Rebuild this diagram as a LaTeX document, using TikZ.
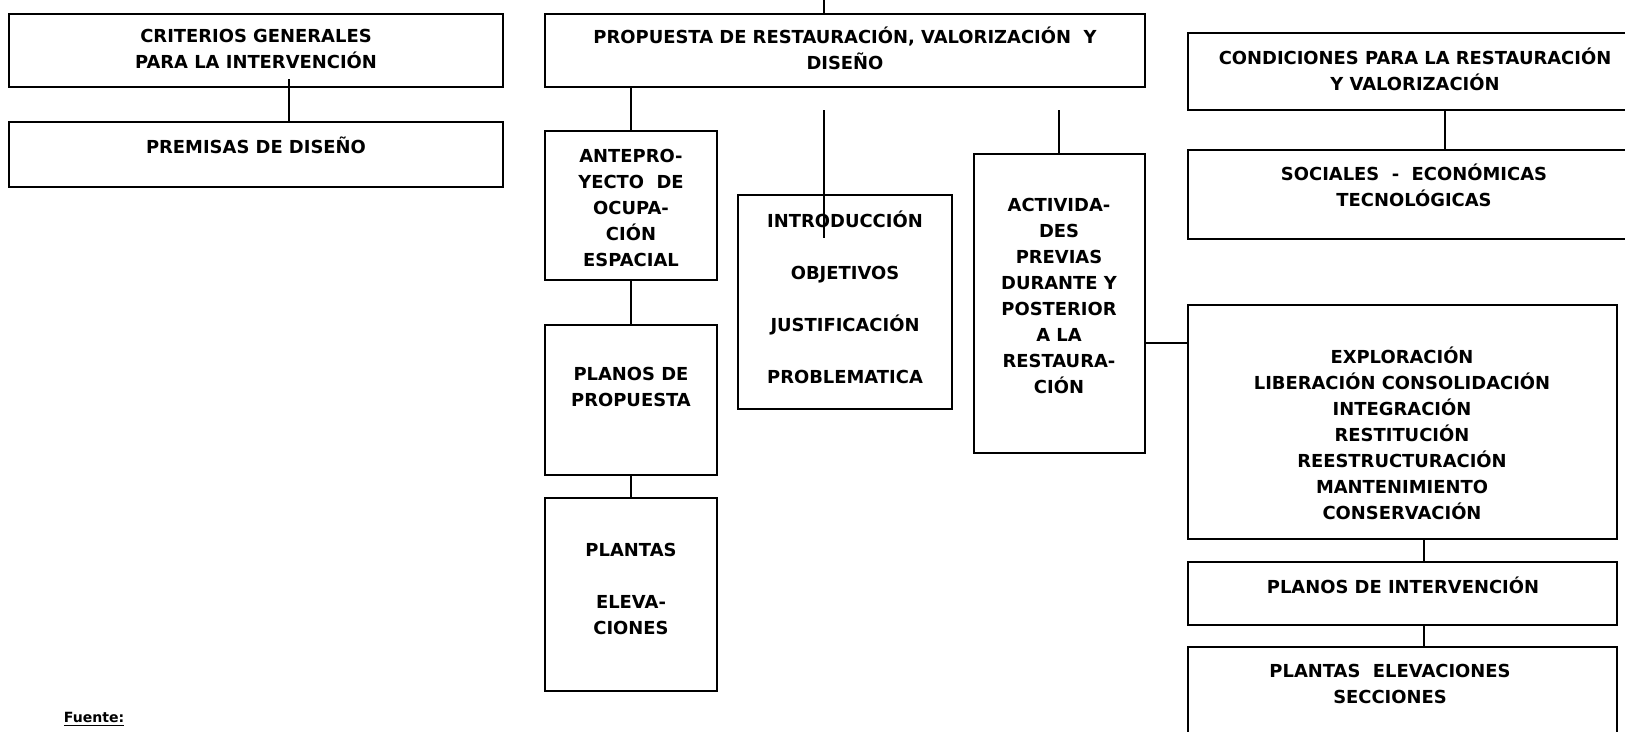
\documentclass[tikz,border=0pt]{standalone}
\usepackage{fontspec}
\setmainfont{DejaVu Sans}
\usepackage{tikz}
\usetikzlibrary{fit}

\begin{document}
\begin{tikzpicture}[x=0.02cm,y=-0.02cm,
  box/.style={draw,line width=1.1pt,inner sep=0pt},
  txt/.style={align=center,inner sep=0pt,font=\fontsize{10.2}{14.8}\selectfont\bfseries}]
\clip (0,0) rectangle (1625,731);
% Left column
\node[box,fit={(9,14) (503,87)}] (crit) {};
\node[txt] (critT) at (256,48.5) {CRITERIOS GENERALES\\PARA LA INTERVENCIÓN};
\node[box,fit={(9,122) (503,187)}] (prem) {};
\node[txt] (premT) at (256,145) {PREMISAS DE DISEÑO};
\coordinate (critstub) at (289,79);
\draw[line width=1pt] (critstub) -- (critstub |- prem.north);
% Main proposal
\node[box,fit={(545,14) (1145,87)}] (prop) {};
\node[txt] (propT) at (845,48.5) {PROPUESTA DE RESTAURACIÓN, VALORIZACIÓN~ Y\\DISEÑO};
\coordinate (topend) at (824,0);
\draw[line width=1pt] (topend) -- (topend |- prop.north);
% Proposal branches
\node[box,fit={(545,131) (717,280)}] (antep) {};
\node[txt] (antepT) at (631,207.5) {ANTEPRO-\\YECTO~ DE\\OCUPA-\\CIÓN\\ESPACIAL};
\node[box,fit={(545,325) (717,475)}] (planos) {};
\node[txt] (planosT) at (631,387) {PLANOS DE\\PROPUESTA};
\node[box,fit={(545,498) (717,691)}] (plantas) {};
\node[txt] (plantasT) at (631,589) {PLANTAS\\[14.8pt]ELEVA-\\CIONES};
\draw[line width=1pt] (antep.north |- prop.south) -- (antep.north);
\draw[line width=1pt] (antep.south) -- (planos.north);
\draw[line width=1pt] (planos.south) -- (plantas.north);
\node[box,fit={(738,195) (952,409)}] (intro) {};
\node[txt] (introT) at (845,297.5) {INTRODUCCIÓN\\[14.8pt]OBJETIVOS\\[14.8pt]JUSTIFICACIÓN\\[14.8pt]PROBLEMATICA};
\coordinate (introstub) at (824,110);
\coordinate (introhook) at (824,238);
\draw[line width=1pt] (introstub) -- (introhook);
\node[box,fit={(974,154) (1145,453)}] (activ) {};
\node[txt] (activT) at (1059,296) {ACTIVIDA-\\DES\\PREVIAS\\DURANTE Y\\POSTERIOR\\A LA\\RESTAURA-\\CIÓN};
\coordinate (activstub) at (1059,110);
\draw[line width=1pt] (activstub) -- (activstub |- activ.north);
% Right column
\node[box,fit={(1188,33) (1702,110)}] (cond) {};
\node[txt] (condT) at (1415,69.5) {CONDICIONES PARA LA RESTAURACIÓN\\Y VALORIZACIÓN};
\node[box,fit={(1188,150) (1702,239)}] (soc) {};
\node[txt] (socT) at (1414,185.5) {SOCIALES~ - ~ECONÓMICAS\\TECNOLÓGICAS};
\coordinate (condsoc) at (1445,0);
\draw[line width=1pt] (condsoc |- cond.south) -- (condsoc |- soc.north);
\node[box,fit={(1188,305) (1617,539)}] (explor) {};
\node[txt] (explorT) at (1402,433) {EXPLORACIÓN\\LIBERACIÓN CONSOLIDACIÓN\\INTEGRACIÓN\\RESTITUCIÓN\\REESTRUCTURACIÓN\\MANTENIMIENTO\\CONSERVACIÓN};
\node[box,fit={(1188,562) (1617,625)}] (planint) {};
\node[txt] (planintT) at (1403,585) {PLANOS DE INTERVENCIÓN};
\node[box,fit={(1188,647) (1617,760)}] (plantasel) {};
\node[txt] (plantaselT) at (1390,683.5) {PLANTAS~ ELEVACIONES\\SECCIONES};
\coordinate (link) at (1145,343);
\draw[line width=1pt] (link) -- (link -| explor.west);
\coordinate (explorx) at (1424,0);
\draw[line width=1pt] (explorx |- explor.south) -- (explorx |- planint.north);
\draw[line width=1pt] (explorx |- planint.south) -- (explorx |- plantasel.north);
% Source note
\node[txt,font=\fontsize{8}{10}\selectfont\bfseries] (fuente) at (94,719) {\underline{Fuente:}};
\end{tikzpicture}
\end{document}
